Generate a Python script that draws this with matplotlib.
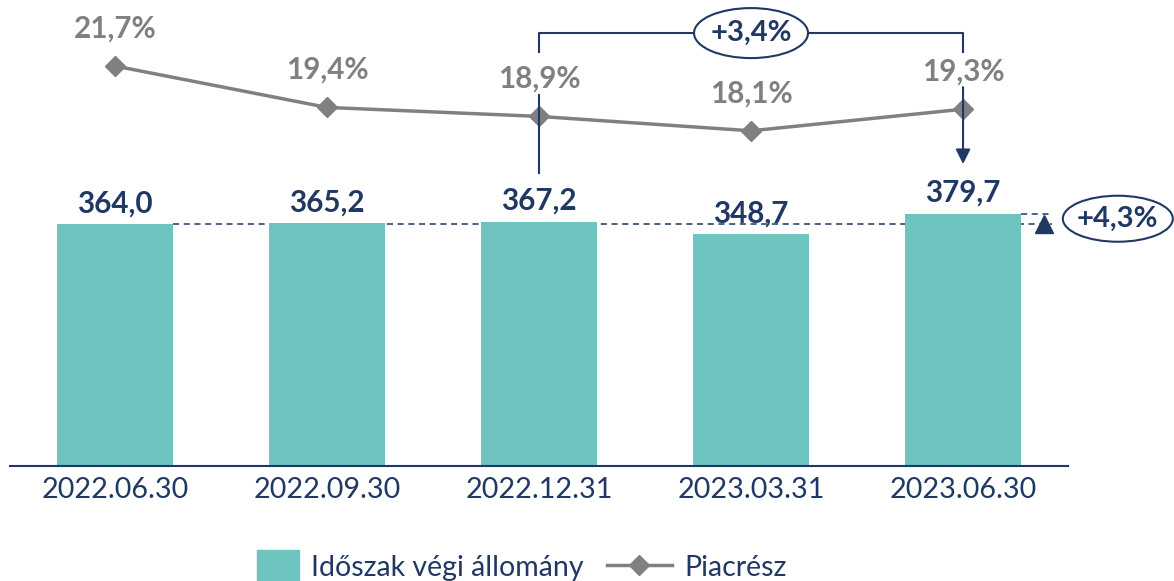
import matplotlib.pyplot as plt
import matplotlib.transforms as mtransforms
from matplotlib.patches import Ellipse, Patch, Rectangle
from matplotlib.lines import Line2D
from matplotlib.legend_handler import HandlerPatch

plt.rcParams['font.family'] = ['Lato', 'DejaVu Sans']

DATES = ['2022.06.30', '2022.09.30', '2022.12.31', '2023.03.31', '2023.06.30']
STOCK = [364.0, 365.2, 367.2, 348.7, 379.7]
SHARE = [21.7, 19.4, 18.9, 18.1, 19.3]
SHARE_CHANGE = '+3,4%'
STOCK_CHANGE = '+4,3%'
LABELS = ['Időszak végi állomány', 'Piacrész']

TEAL = '#6EC4BE'
NAVY = '#1F3864'
GREY = '#808080'
BAR_W = 0.55
W, H = 1174, 581


def fmt(v, suffix=''):
    return ('%.1f' % v).replace('.', ',') + suffix


fig = plt.figure(figsize=(W / 100, H / 100), dpi=100)
ax = fig.add_axes([10 / W, 115 / H, 1058 / W, 466 / H])
x = list(range(len(DATES)))

ax.bar(x, STOCK, width=BAR_W, color=TEAL, zorder=2)
ax.set_xlim(-0.495, 4.495)
ax.set_ylim(0, 700.8)
for s in ['top', 'left', 'right']:
    ax.spines[s].set_visible(False)
ax.spines['bottom'].set_color(NAVY)
ax.spines['bottom'].set_linewidth(1.5)
ax.set_yticks([])
ax.set_xticks(x)
ax.set_xticklabels(DATES, fontsize=20.7, color=NAVY)
ax.tick_params(axis='x', length=0, pad=8)

for i, v in enumerate(STOCK):
    ax.annotate(fmt(v), (i, v), xytext=(0, 15), textcoords='offset points',
                ha='center', va='center', fontsize=21.3, fontweight='bold', color=NAVY)

# dashed reference lines for the +4,3% marker
ax.plot([BAR_W / 2, 4.42], [STOCK[0]] * 2, ls='--', lw=1.1, color=NAVY, dashes=(4, 3), zorder=1)
ax.plot([4 + BAR_W / 2, 4.42], [STOCK[-1]] * 2, ls='--', lw=1.1, color=NAVY, dashes=(4, 3), zorder=1)
ax.plot(4.38, STOCK[0], marker='^', ms=13, color=NAVY, clip_on=False, zorder=3)

# market share line
ax2 = ax.twinx()
ax2.set_ylim(-0.522, 25.367)
ax2.axis('off')
ax2.plot(x, SHARE, color=GREY, lw=2.5, marker='D', ms=10.5, zorder=3)
for i, v in enumerate(SHARE):
    ax2.annotate(fmt(v, '%'), (i, v), xytext=(0, 27), textcoords='offset points',
                 ha='center', va='center', fontsize=21.3, fontweight='bold', color=GREY)

# bracket +3,4%
trans = mtransforms.blended_transform_factory(ax2.transData, ax2.transAxes)
top = 0.929
kw = dict(color=NAVY, lw=1.5, transform=trans, clip_on=False, zorder=4)
ax2.plot([2, 2], [0.629, 0.796], **kw)
ax2.plot([2, 2, 4, 4], [0.888, top, top, 0.888], **kw)
ax2.annotate('', xy=(4, 0.648), xytext=(4, 0.813), xycoords=trans,
             arrowprops=dict(arrowstyle='-|>', color=NAVY, lw=1.5, mutation_scale=22,
                             shrinkA=0, shrinkB=0), zorder=4)


def ellipse_label(text, disp, w_px, h_px):
    fx, fy = fig.transFigure.inverted().transform(disp)
    e = Ellipse((fx, fy), w_px / W, h_px / H, transform=fig.transFigure,
                fc='white', ec=NAVY, lw=1.5, zorder=5)
    fig.patches.append(e)
    fig.text(fx, fy, text, ha='center', va='center', fontsize=21,
             fontweight='bold', color=NAVY, zorder=6)


ellipse_label(SHARE_CHANGE, trans.transform((3, top)), 114, 50)
mid = (STOCK[0] + STOCK[-1]) / 2
ellipse_label(STOCK_CHANGE, ax.transData.transform((4.73, mid)), 110, 46)


def square(legend, orig_handle, xdescent, ydescent, width, height, fontsize):
    top_y = -ydescent - 4 + height * 1.35
    side = height * 1.67
    return Rectangle((width - side - xdescent, top_y - side * 1.2), side, side * 1.2)


handles = [Patch(color=TEAL), Line2D([], [], color=GREY, lw=2.5, marker='D', ms=10.5)]
fig.legend(handles, LABELS, loc='center', bbox_to_anchor=(510 / W, 1 - 567 / H), ncol=2,
           frameon=False, fontsize=20.5, labelcolor=NAVY, handlelength=2.3, handleheight=1.0,
           columnspacing=0.8, handletextpad=0.42,
           handler_map={Patch: HandlerPatch(patch_func=square)})

fig.savefig('out.png', dpi=100)
